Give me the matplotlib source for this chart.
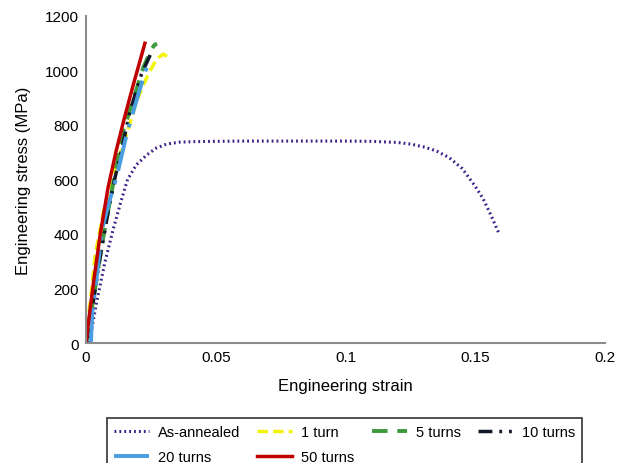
import matplotlib

matplotlib.use("Agg")
import matplotlib.pyplot as plt

plt.rcParams["font.family"] = ["Liberation Sans", "DejaVu Sans"]

# ── Data ──────────────────────────────────────────────────────────────
annealed_strain = [0.0012, 0.0022, 0.0041, 0.0073, 0.0105, 0.0135, 0.0160, 0.0195,
                   0.0234, 0.0270, 0.0311, 0.036, 0.042, 0.050, 0.060, 0.080, 0.100,
                   0.110, 0.120, 0.125, 0.130, 0.135, 0.140, 0.145, 0.150, 0.153,
                   0.156, 0.159]
annealed_stress = [0, 51, 150, 297, 418, 520, 600, 655,
                   690, 715, 730, 737, 739, 740, 741, 741, 741,
                   740, 736, 730, 720, 705, 680, 640, 575, 530,
                   470, 405]

t1_strain = [0, 0.0010, 0.0022, 0.0035, 0.0067, 0.0105, 0.0157, 0.0195, 0.0240,
             0.0272, 0.0298, 0.0313]
t1_stress = [0, 100, 198, 320, 480, 620, 767, 889, 987, 1042, 1060, 1051]

t5_strain = [0, 0.0030, 0.0065, 0.0100, 0.0144, 0.0189, 0.0221, 0.0253, 0.0265, 0.0274]
t5_stress = [0, 170, 380, 560, 779, 914, 1012, 1079, 1095, 1098]

t10_strain = [0, 0.0020, 0.0050, 0.0085, 0.0112, 0.0135, 0.0170, 0.0214, 0.0249]
t10_stress = [0, 100, 290, 480, 608, 700, 852, 987, 1060]

t20_strain = [0.0019, 0.0024, 0.0040, 0.0062, 0.0090, 0.0118, 0.0157, 0.0202, 0.0240]
t20_stress = [0, 113, 230, 418, 520, 609, 767, 914, 1030]

t50_strain = [0, 0.0010, 0.0030, 0.0055, 0.0085, 0.0115, 0.0145, 0.0180, 0.0205, 0.0227]
t50_stress = [0, 80, 230, 400, 570, 700, 815, 940, 1025, 1100]

x_ticks = [0, 0.05, 0.1, 0.15, 0.2]
x_labels = ["0", "0.05", "0.1", "0.15", "0.2"]
y_ticks = [0, 200, 400, 600, 800, 1000, 1200]

# ── Figure ────────────────────────────────────────────────────────────
fig = plt.figure(figsize=(6.23, 4.64), dpi=100)
ax = fig.add_axes([86 / 623, 1 - 344 / 464, 519 / 623, 327 / 464])

h_aa, = ax.plot(annealed_strain, annealed_stress, color="#3d1f8a", lw=2.2,
                linestyle=(0, (0.6, 1.0)), label="As-annealed")
h1, = ax.plot(t1_strain, t1_stress, color="#f2f20a", lw=2.5,
              linestyle=(0, (3, 1.5)), label="1 turn")
h5, = ax.plot(t5_strain, t5_stress, color="#3c9a3c", lw=2.8,
              linestyle=(0, (4, 2.5)), label="5 turns")
h10, = ax.plot(t10_strain, t10_stress, color="#111827", lw=2.5,
               linestyle=(0, (4, 2, 0.8, 2, 0.8, 2)), label="10 turns")
h20, = ax.plot(t20_strain, t20_stress, color="#4a9de0", lw=2.8,
               linestyle=(0, (9, 2.5, 1, 2.5)), label="20 turns")
h50, = ax.plot(t50_strain, t50_stress, color="#c00000", lw=2.5,
               linestyle="-", label="50 turns")

ax.set_xlim(0, 0.2)
ax.set_ylim(0, 1200)
ax.set_xticks(x_ticks)
ax.set_xticklabels(x_labels)
ax.set_yticks(y_ticks)
ax.tick_params(length=0, labelsize=11, pad=5)
for s in ["top", "right"]:
    ax.spines[s].set_visible(False)
for s in ["left", "bottom"]:
    ax.spines[s].set_color("#8c8c8c")
    ax.spines[s].set_linewidth(1.5)

ax.set_xlabel("Engineering strain", fontsize=12, labelpad=10)
ax.set_ylabel("Engineering stress (MPa)", fontsize=12, labelpad=10)

# column-major order so rows read: AA, 1, 5, 10 / 20, 50
handles = [h_aa, h20, h1, h50, h5, h10]
leg = fig.legend(handles=handles, labels=[h.get_label() for h in handles],
                 ncol=4, loc="upper left", bbox_to_anchor=(100 / 623, 1 - 412 / 464),
                 fontsize=10.5, frameon=True, fancybox=False, framealpha=1,
                 edgecolor="#333333", handlelength=2.4, columnspacing=1.2,
                 handletextpad=0.6, labelspacing=0.75, borderpad=0.45)
leg.get_frame().set_linewidth(1.2)

fig.savefig("out.png", dpi=100, facecolor="white")
